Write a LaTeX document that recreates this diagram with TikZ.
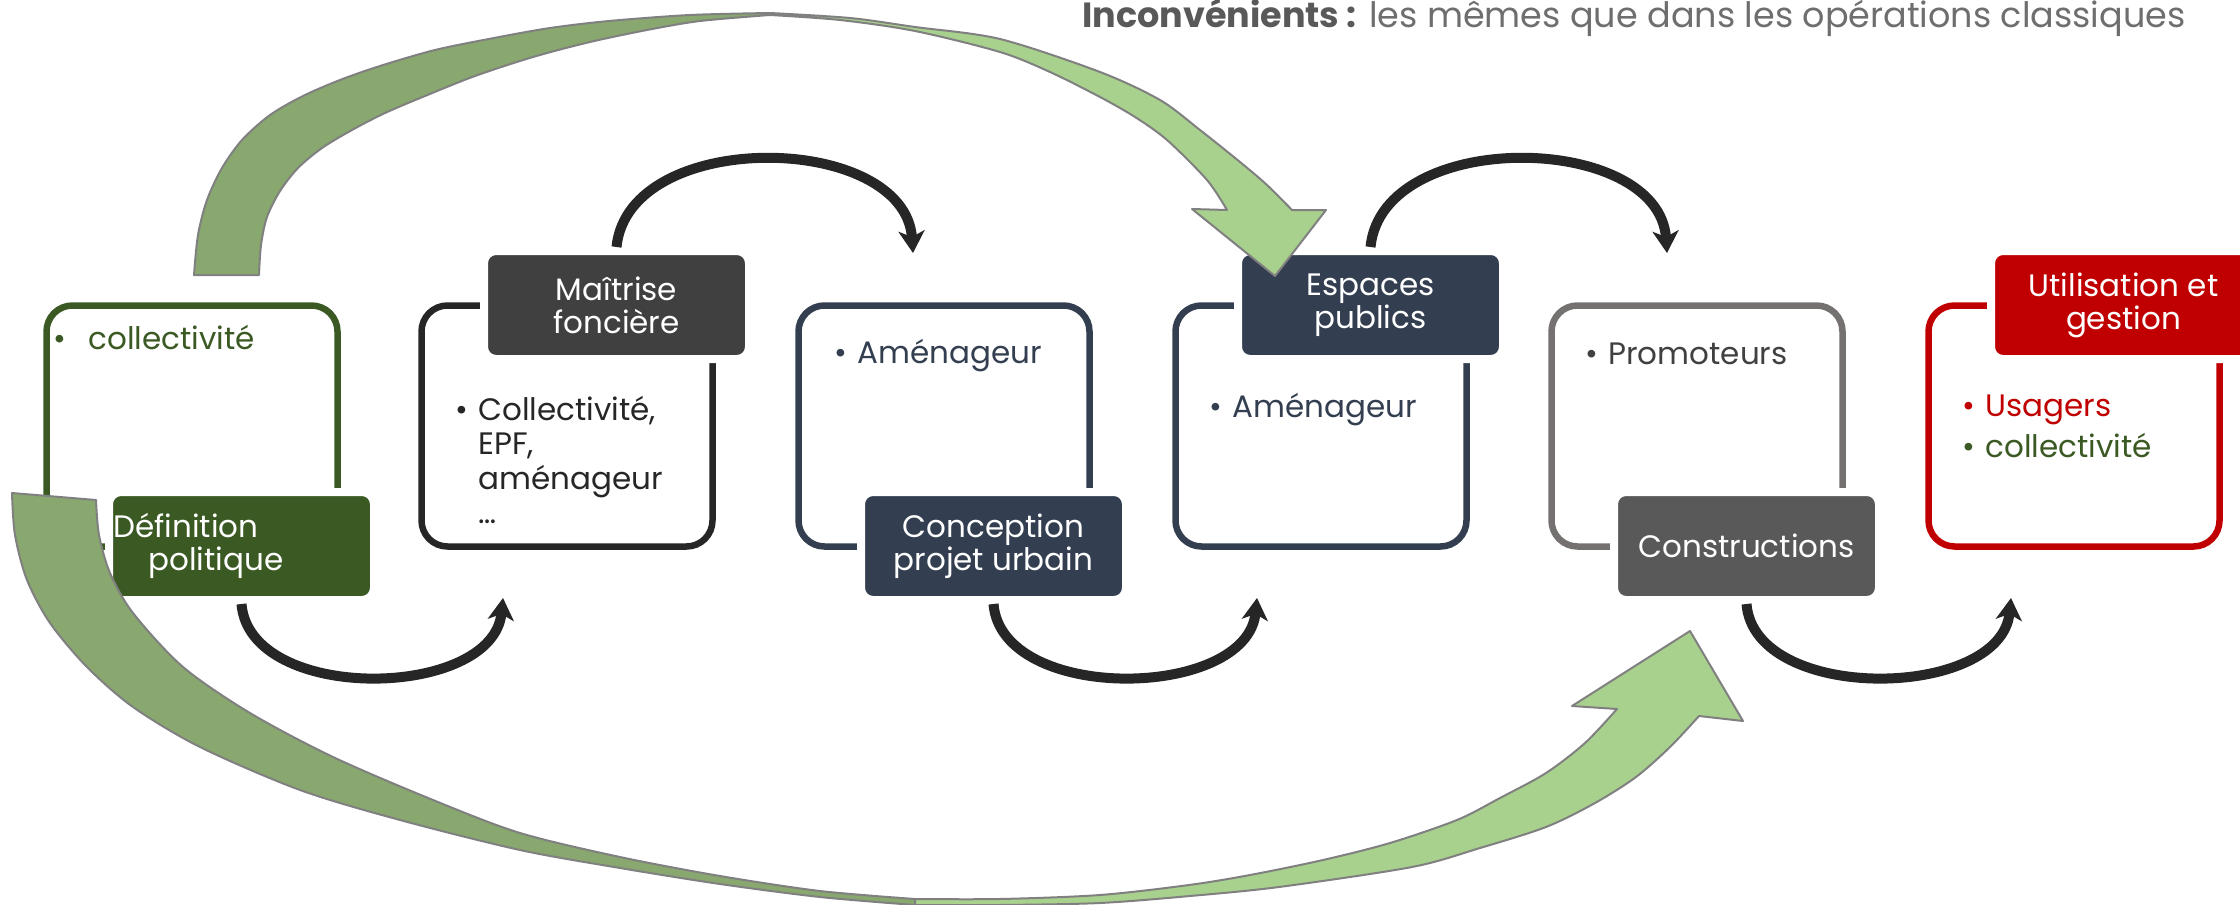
\documentclass[tikz,border=0pt]{standalone}
\usepackage{fontspec}
\setmainfont{Poppins}
\usetikzlibrary{arrows.meta}
\definecolor{cgreen}{HTML}{3B5A23}
\definecolor{cblack}{HTML}{262626}
\definecolor{cdgray}{HTML}{404040}
\definecolor{cslate}{HTML}{333F50}
\definecolor{cgrayline}{HTML}{767171}
\definecolor{cgraylab}{HTML}{595959}
\definecolor{cred}{HTML}{C00000}
\definecolor{gdarkc}{HTML}{88A86F}
\definecolor{glightc}{HTML}{A9D18E}
\definecolor{goutc}{HTML}{808080}
\definecolor{ttitle}{HTML}{595959}
\definecolor{ttitletwo}{HTML}{6E6E6E}
\begin{document}
\begin{tikzpicture}[x=0.5pt,y=-0.5pt,
 pbox/.style={draw, line width=3.25pt, rounded corners=13pt, minimum width=145.5pt, minimum height=120.5pt, inner sep=0pt, fill=white},
 plab/.style={draw=white, line width=4pt, rounded corners=6pt, minimum width=132.5pt, minimum height=54pt, inner sep=0pt, text=white, align=center, font=\fontsize{15.5}{16.5}\selectfont},
 body/.style={anchor=base west, inner sep=0pt, font=\fontsize{15.5}{17.25}\selectfont},
 blk/.style={draw=cblack, line width=5pt, -{Stealth[length=11pt,width=13pt,inset=3pt]}},
 gdark/.style={fill=gdarkc, draw=goutc, line width=1pt, line join=round},
 glight/.style={fill=glightc, draw=goutc, line width=1pt, line join=round}]
\useasboundingbox (0,0) rectangle (2240,905);

% boxes
\node[pbox, draw=cgreen] (b1) at (192,426) {};
\node[pbox, draw=cblack] (b2) at (567,426) {};
\node[pbox, draw=cslate] (b3) at (944,426) {};
\node[pbox, draw=cslate] (b4) at (1321,426) {};
\node[pbox, draw=cgrayline] (b5) at (1697,426) {};
\node[pbox, draw=cred] (b6) at (2074,426) {};

% labels
\node[plab, fill=cgreen, align=left, text width=128pt, inner xsep=2.25pt] (l1) at (241.5,546) {Définition\\\hspace*{17.5pt}politique};
\node[plab, fill=cdgray] (l2) at (616.5,305) {Maîtrise\\foncière};
\node[plab, fill=cslate] (l3) at (993.5,546) {Conception\\projet urbain};
\node[plab, fill=cslate] (l4) at (1370.5,305) {Espaces\\publics};
\node[plab, fill=cgraylab] (l5) at (1746.5,546) {Constructions};
\node[plab, fill=cred] (l6) at (2123.5,305) {Utilisation et\\gestion};

% body texts
\node[body, text=cgreen] (t1) at (88,349) {\llap{•\hspace{11pt}}collectivité};
\node[body, text=cblack] (t2) at (478,420) {\begin{tabular}[t]{@{}l@{}}\llap{•\hspace{5pt}}Collectivité,\\EPF,\\aménageur\\…\end{tabular}};
\node[body, text=cslate] (t3) at (857,363) {\llap{•\hspace{5pt}}Aménageur};
\node[body, text=cslate] (t4) at (1232,417) {\llap{•\hspace{5pt}}Aménageur};
\node[body, text=cdgray] (t5) at (1608,364) {\llap{•\hspace{5pt}}Promoteurs};
\node[body] (t6) at (1985,416) {\begin{tabular}[t]{@{}l@{}}\textcolor{cred}{\llap{•\hspace{5pt}}Usagers}\\[3.25pt]\textcolor{cgreen}{\llap{•\hspace{5pt}}collectivité}\end{tabular}};

% free ends of the black arcs
\coordinate (e1) at (503,598);
\coordinate (e2) at (913,253);
\coordinate (e3) at (1257,598);
\coordinate (e4) at (1667,253);
\coordinate (e5) at (2011,598);

\draw[blk] (l1.south) .. controls +(8,100) and +(-10,102) .. (e1);
\draw[blk] (l2.north) .. controls +(12,-120) and +(-8,-121) .. (e2);
\draw[blk] (l3.south) .. controls +(8,100) and +(-10,102) .. (e3);
\draw[blk] (l4.north) .. controls +(12,-120) and +(-8,-121) .. (e4);
\draw[blk] (l5.south) .. controls +(8,100) and +(-10,102) .. (e5);

% top big green arrow
\filldraw[gdark] plot[smooth] coordinates {(194,275) (198,235) (207,200) (222,168) (242,140) (270,115) (303,96) (340,80) (380,66) (435,50) (494,38) (550,28) (609,21) (690,15) (770,13)}
  -- plot[smooth] coordinates {(770,15) (700,21) (647,30) (590,42) (533,57) (475,76) (425,96) (385,113) (352,130) (322,148) (298,168) (280,191) (267,217) (261,245) (259,275)} -- cycle;
\filldraw[glight] plot[smooth] coordinates {(770,13) (850,18) (915,27) (1000,39) (1100,72) (1160,100) (1200,130) (1240,162) (1267,185) (1292,210)}
  -- (1326,210) -- (1275,276) -- (1192,209) -- (1227,210)
  -- plot[smooth] coordinates {(1227,210) (1207,180) (1167,140) (1135,117) (1100,97) (1050,72) (1000,52) (915,31) (840,20) (770,15)} -- cycle;

% bottom big green arrow
\filldraw[gdark] (12,493) -- (96,500)
  -- plot[smooth] coordinates {(96,500) (99,535) (110,573) (133,613) (183,667) (250,713) (333,757) (433,800) (520,833) (620,857) (720,876) (820,891) (915,899)}
  -- plot[smooth] coordinates {(915,905) (820,897) (720,884) (620,868) (520,850) (400,820) (300,790) (200,747) (133,707) (87,667) (50,623) (27,580) (15,535) (12,493)} -- cycle;
\filldraw[glight] plot[smooth] coordinates {(915,905) (1000,905) (1100,903) (1190,896) (1279,887) (1412,867) (1480,848) (1546,827) (1595,803) (1636,777) (1670,747) (1699,716)}
  -- (1743,721) -- (1690,631) -- (1572,706) -- (1617,709)
  -- plot[smooth] coordinates {(1617,709) (1585,743) (1546,773) (1500,798) (1457,820) (1390,843) (1323,860) (1250,875) (1189,885) (1100,895) (1000,899) (915,899)} -- cycle;

% title
\node[anchor=base east, inner sep=0pt, font=\fontsize{17.5}{20}\selectfont, text=ttitletwo] (title) at (2186,27) {\textcolor{ttitle}{\textbf{Inconvénients :}} les mêmes que dans les opérations classiques};
\end{tikzpicture}
\end{document}
